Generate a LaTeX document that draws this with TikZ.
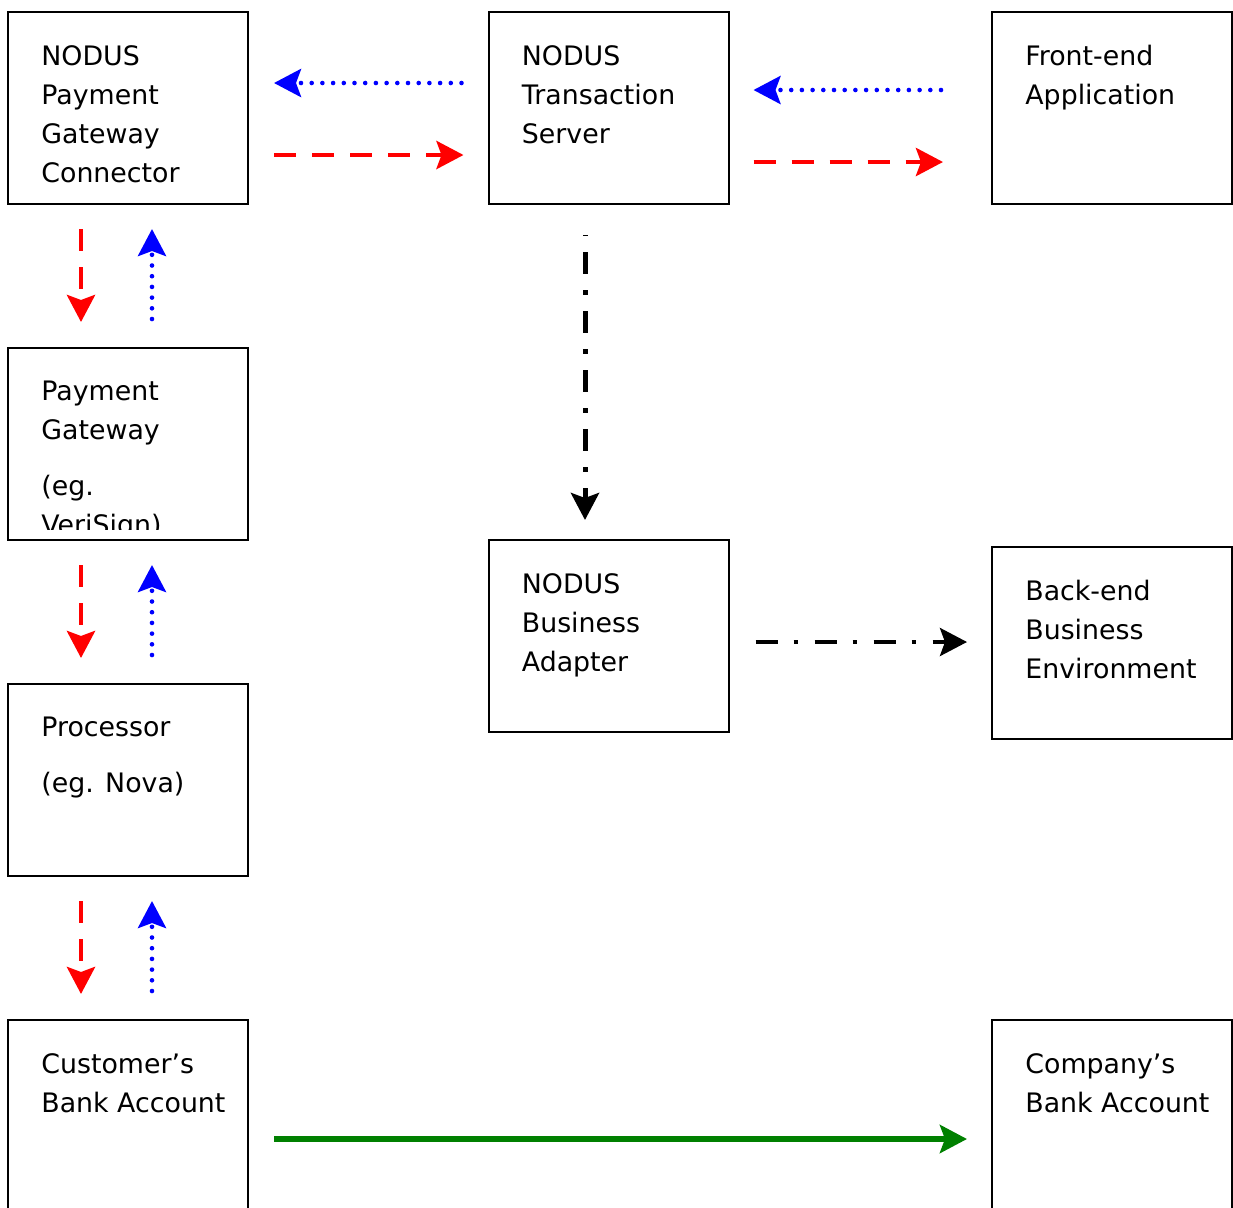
\documentclass[tikz,border=0pt]{standalone}
\usepackage{fontspec}
\setmainfont{DejaVu Sans}
\usetikzlibrary{arrows.meta}
\usetikzlibrary{positioning}

\begin{document}
\begin{tikzpicture}[x=.5pt, y=-.5pt,
  box/.style={draw=black, line width=1pt, minimum width=120pt, minimum height=96pt, inner sep=0pt},
  txt/.style={anchor=north west, inner sep=0pt, align=left, font=\fontsize{13.4}{19.5}\selectfont},
  >={Stealth[length=13.5pt, width=14pt, inset=2.5pt]},
  req/.style={red, line width=2.4pt, dash pattern=on 11pt off 8pt, ->},
  resp/.style={blue, line width=2.3pt, line cap=round, dash pattern=on 0pt off 5.35pt, ->},
  biz/.style={black, line width=2.5pt, dash pattern=on 11pt off 8pt on 2.25pt off 8.25pt, ->},
  fund/.style={green!50!black, line width=2.8pt, ->}]
\useasboundingbox (0,0) rectangle (1233,1207);

\node[box] (pgc)  at (128,108)    {};
\node[box] (nts)  at (608.5,108)  {};
\node[box] (fea)  at (1112,108)   {};
\node[box] (pg)   at (128,444)    {};
\node[box] (nba)  at (608.5,636)  {};
\node[box] (bbe)  at (1112,643)   {};
\node[box] (proc) at (128,780)    {};
\node[box] (cba)  at (128,1116)   {};
\node[box] (cpa)  at (1112,1116)  {};

\node[txt, below right=17pt and 17pt of pgc.north west] (pgc-t) {NODUS\\Payment\\Gateway\\Connector};
\node[txt, below right=17pt and 17pt of nts.north west] (nts-t) {NODUS\\Transaction\\Server};
\node[txt, below right=17pt and 17pt of fea.north west] (fea-t) {Front-end\\Application};
\begin{scope}
\clip (pg.north west) rectangle ([yshift=6pt]pg.south east);
\node[txt, below right=17pt and 17pt of pg.north west] (pg-t) {Payment\\Gateway\\[8.5pt](eg.\\VeriSign)};
\end{scope}
\node[txt, below right=17pt and 17pt of nba.north west] (nba-t) {NODUS\\Business\\Adapter};
\node[txt, below right=17pt and 17pt of bbe.north west] (bbe-t) {Back-end\\Business\\Environment};
\node[txt, below right=17pt and 17pt of proc.north west] (proc-t) {Processor\\[8.5pt](eg. Nova)};
\node[txt, below right=17pt and 17pt of cba.north west] (cba-t) {Customer’s\\Bank Account};
\node[txt, below right=17pt and 17pt of cpa.north west] (cpa-t) {Company’s\\Bank Account};

\draw[resp] ([shift={(-26,-25)}]nts.west) -- ([shift={(25,-25)}]pgc.east);
\draw[req]  ([shift={(25,47)}]pgc.east) -- ([shift={(-24,47)}]nts.west);
\draw[resp] ([shift={(-50,-18)}]fea.west) -- ([shift={(24,-18)}]nts.east);
\draw[req]  ([shift={(24,54)}]nts.east) -- ([shift={(-48,54)}]fea.west);
\foreach \a/\b in {pgc/pg, pg/proc, proc/cba} {
 \draw[req]  ([shift={(-47,24)}]\a.south) -- ([shift={(-47,-25)}]\b.north);
 \draw[resp] ([shift={(24,-28)}]\b.north) -- ([shift={(24,24)}]\a.south);
}
\draw[biz, dash phase=21pt] ([shift={(-23.5,30)}]nts.south) -- ([shift={(-23.5,-19)}]nba.north);
\draw[biz, line width=2pt] ([shift={(26,6)}]nba.east) -- ([shift={(-24,-1)}]bbe.west);
\draw[fund] ([shift={(25,23)}]cba.east) -- ([shift={(-24,23)}]cpa.west);
\end{tikzpicture}
\end{document}
